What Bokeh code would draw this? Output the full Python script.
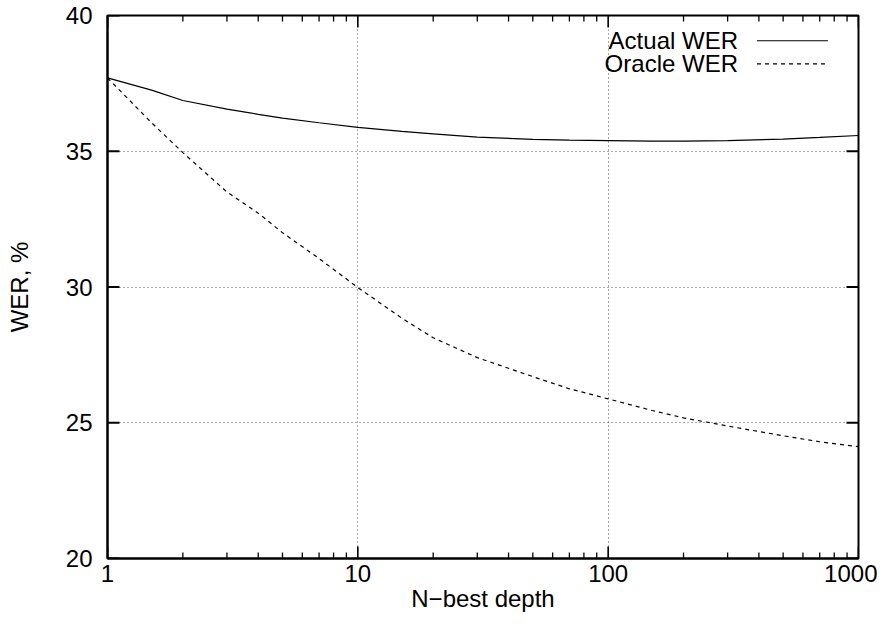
from bokeh.plotting import figure
from bokeh.models import (Range1d, FixedTicker, Label, Arrow)
from bokeh.embed import file_html
from bokeh.resources import INLINE

n_best = [1, 1.5, 2, 3, 4, 5, 7, 10, 15, 20, 30, 50, 70, 100, 150, 200, 300, 500, 700, 1000]
actual_wer = [37.70, 37.25, 36.87, 36.55, 36.36, 36.22, 36.05, 35.88, 35.73, 35.64, 35.52, 35.44,
              35.41, 35.39, 35.37, 35.37, 35.39, 35.45, 35.51, 35.58]
oracle_wer = [37.70, 36.05, 34.95, 33.50, 32.72, 32.00, 31.05, 29.98, 28.85, 28.13, 27.40, 26.70,
              26.25, 25.88, 25.45, 25.18, 24.88, 24.52, 24.30, 24.12]

x_ticks = [1, 10, 100, 1000]
x_minor = [m * d for d in (1, 10, 100) for m in range(2, 10)]
y_ticks = [20, 25, 30, 35, 40]
series_names = ["Actual WER", "Oracle WER"]
x_title = "N\u2212best depth"
y_title = "WER, %"

FONT = "Liberation Sans"
W, H = 877, 618
BL, BT, BR, BB = 107, 15, 19, 60
XMIN, XMAX, YMIN, YMAX = 1, 1000, 20, 40

p = figure(width=W, height=H, x_axis_type="log",
           x_range=Range1d(XMIN, XMAX), y_range=Range1d(YMIN, YMAX),
           output_backend="svg", toolbar_location=None,
           min_border_left=BL, min_border_top=BT, min_border_right=BR, min_border_bottom=BB,
           x_axis_label=x_title, y_axis_label=y_title)

p.background_fill_color = "white"
p.border_fill_color = "white"
p.outline_line_color = "black"
p.outline_line_width = 2

p.xgrid.ticker = FixedTicker(ticks=x_ticks)
p.ygrid.ticker = FixedTicker(ticks=y_ticks)
for g in (p.xgrid, p.ygrid):
    g.grid_line_color = "#555555"
    g.grid_line_dash = "1 3"
    g.grid_line_width = 1

def style_axis(ax):
    ax.axis_line_color = "black"
    ax.axis_line_width = 2
    ax.major_tick_in = 0
    ax.major_tick_out = 0
    ax.minor_tick_in = 0
    ax.minor_tick_out = 0
    ax.major_label_text_font = FONT
    ax.major_label_text_font_size = "24px"
    ax.major_label_text_color = "black"
    ax.axis_label_text_font = FONT
    ax.axis_label_text_font_size = "24px"
    ax.axis_label_text_font_style = "normal"
    ax.axis_label_text_color = "black"

xa = p.xaxis[0]
xa.ticker = FixedTicker(ticks=x_ticks, minor_ticks=x_minor)
xa.major_label_overrides = {t: str(t) for t in x_ticks}
style_axis(xa)
xa.major_label_standoff = 6
xa.axis_label_standoff = 0

ya = p.yaxis[0]
ya.ticker = FixedTicker(ticks=y_ticks)
style_axis(ya)
ya.major_label_standoff = 15
ya.axis_label_standoff = 30

# inward tick marks on all four sides (gnuplot mirror style), lengths in pixels
frame_w = W - BL - BR
frame_h = H - BT - BB
decade_px = frame_w / 3.0
unit_px = frame_h / float(YMAX - YMIN)

def xfac(px):
    return 10 ** (px / decade_px)

def add_x_ticks(ticks, length, width):
    dy = length / unit_px
    p.segment(x0=ticks, y0=[YMIN] * len(ticks), x1=ticks, y1=[YMIN + dy] * len(ticks),
              line_color="black", line_width=width)
    p.segment(x0=ticks, y0=[YMAX] * len(ticks), x1=ticks, y1=[YMAX - dy] * len(ticks),
              line_color="black", line_width=width)

add_x_ticks(x_ticks, 12, 1.6)
add_x_ticks(x_minor, 6, 1.3)
f = xfac(12)
p.segment(x0=[XMIN] * len(y_ticks), y0=y_ticks, x1=[XMIN * f] * len(y_ticks), y1=y_ticks,
          line_color="black", line_width=2)
p.segment(x0=[XMAX] * len(y_ticks), y0=y_ticks, x1=[XMAX / f] * len(y_ticks), y1=y_ticks,
          line_color="black", line_width=2)

# curves
p.line(n_best, actual_wer, line_color="black", line_width=1.2)
p.line(n_best, oracle_wer, line_color="black", line_width=1.2, line_dash="4 4")

# gnuplot-style key (label left, sample right)
key_rows = [(39.07, "solid"), (38.22, "4 4")]
for name, (ky, dash) in zip(series_names, key_rows):
    p.add_layout(Label(x=330, y=ky, text=name, text_align="right", text_baseline="middle",
                       text_font=FONT, text_font_size="24px", text_color="black"))
    p.add_layout(Arrow(end=None, x_start=393, y_start=ky, x_end=755, y_end=ky,
                       line_color="black", line_width=1.2, line_dash=dash))

open("out.html", "w").write(file_html(p, INLINE))
